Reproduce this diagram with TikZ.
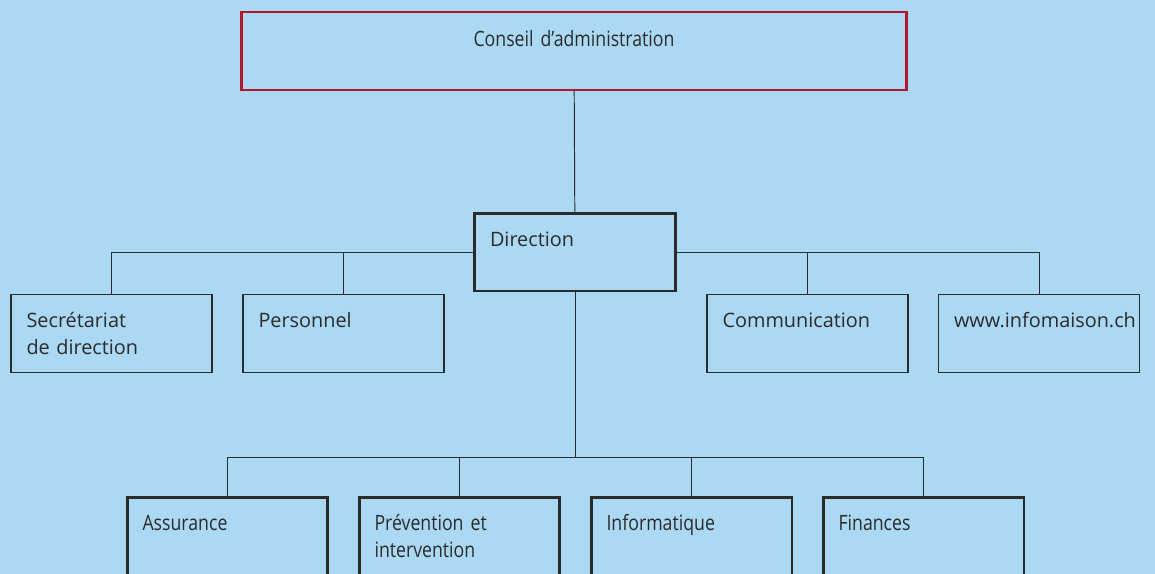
\documentclass[tikz,border=0pt]{standalone}
\usepackage{fontspec}
\setmainfont{Open Sans}
\newfontfamily\condfont[FakeStretch=0.84,WordSpace=0.75]{Open Sans}
\usepackage{xcolor}

\definecolor{bgblue}{HTML}{ABD8F2}
\definecolor{linegrey}{HTML}{2B2B2B}
\definecolor{boardred}{HTML}{B2182B}

\tikzset{
  unit/.style={draw=linegrey, line width=0.7pt, text width=3.4cm, align=left,
    inner xsep=0.31cm, inner ysep=0pt, text height=0.66cm, text depth=0.9cm,
    font=\fontsize{11.3}{15.4}\selectfont, text=linegrey},
  headunit/.style={unit, line width=1.7pt},
  deptunit/.style={unit, line width=1.7pt, font=\condfont\fontsize{12}{15.4}\selectfont},
  board/.style={draw=boardred, line width=1.4pt, text width=13.3cm, align=center,
    inner xsep=0pt, inner ysep=0pt, text height=0.7cm, text depth=0.86cm,
    font=\condfont\fontsize{12}{15.4}\selectfont, text=linegrey},
  link/.style={draw=linegrey, line width=0.55pt}
}

\begin{document}
\begin{tikzpicture}[x=0.02cm, y=-0.02cm]
\fill[bgblue] (0,0) rectangle (1155,574);
\useasboundingbox (0,0) rectangle (1155,574);

\node[board] (ca) at (574,51) {Conseil d’administration};
\node[headunit] (dir) at (575,252) {Direction};

\node[unit] (sec) at (111.5,333.5) {Secrétariat\\de direction};
\node[unit] (pers) at (343.5,333.5) {Personnel};
\node[unit] (comm) at (807.5,333.5) {Communication};
\node[unit] (web) at (1039,333.5) {www.infomaison.ch};

\coordinate (bus) at (575,457);
\node[deptunit] (ass) at (227.5,536.5) {Assurance};
\node[deptunit] (prev) at (459.5,536.5) {Prévention et\\intervention};
\node[deptunit] (info) at (691.5,536.5) {Informatique};
\node[deptunit] (fin) at (923.5,536.5) {Finances};

\draw[link] (ca) -- (dir);
\draw[link] (dir.west) -| (sec.north);
\draw[link] (dir.west) -| (pers.north);
\draw[link] (dir.east) -| (comm.north);
\draw[link] (dir.east) -| (web.north);
\draw[link] (dir) -- (bus);
\draw[link] (bus) -| (ass.north);
\draw[link] (bus) -| (prev.north);
\draw[link] (bus) -| (info.north);
\draw[link] (bus) -| (fin.north);

\end{tikzpicture}
\end{document}
